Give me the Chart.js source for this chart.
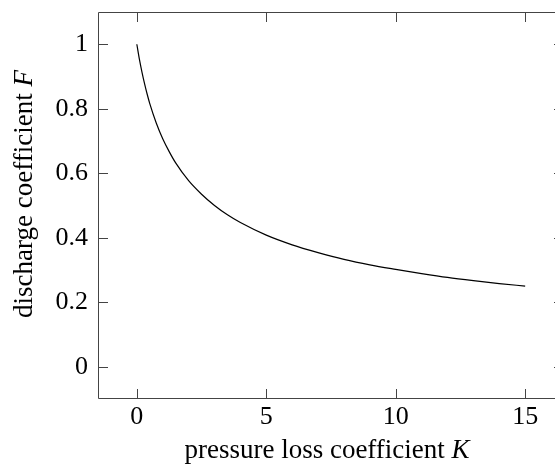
<!DOCTYPE html>
<html>
<head>
<meta charset="utf-8">
<script src="https://cdn.jsdelivr.net/npm/chart.js@4"></script>
<style>
  body { margin: 0; overflow: hidden; background: #fff; }
  #wrap { width: 575px; height: 467px; }
</style>
</head>
<body>
<div id="wrap"><canvas id="myChart" width="575" height="467"></canvas></div>
<script>
// values
var kValues = [0, 0.1, 0.2, 0.3, 0.4, 0.5, 0.75, 1, 1.25, 1.5, 2, 2.5, 3, 3.5, 4, 5, 6, 7, 8, 9, 10, 11, 12, 13, 14, 15];
var fValues = [1, 0.953, 0.913, 0.877, 0.845, 0.816, 0.756, 0.707, 0.667, 0.632, 0.577, 0.535, 0.5, 0.471, 0.447, 0.408, 0.378, 0.354, 0.333, 0.316, 0.302, 0.289, 0.277, 0.267, 0.258, 0.25];
var xTicks = [0, 5, 10, 15];
var yTicks = [0, 0.2, 0.4, 0.6, 0.8, 1];

var serif = "'Liberation Serif', 'DejaVu Serif', serif";
var axisColor = '#444';
var tickSize = 26;
var titleSize = 27;

var points = kValues.map(function (k, i) { return { x: k, y: fValues[i] }; });

// box (right side falls off the page), inward tick marks, axis titles with italic symbols
var framePlugin = {
  id: 'frame',
  afterDraw: function (chart) {
    var c = chart.ctx, a = chart.chartArea;
    var xs = chart.scales.x, ys = chart.scales.y;
    var l = a.left + 0.5, r = a.right - 0.5, t = a.top + 0.5, b = a.bottom - 0.5;
    c.save();
    c.strokeStyle = axisColor;
    c.lineWidth = 1;
    c.beginPath();
    c.moveTo(r, t); c.lineTo(l, t); c.lineTo(l, b); c.lineTo(r, b);
    xTicks.forEach(function (v) {
      var px = Math.round(xs.getPixelForValue(v)) + 0.5;
      c.moveTo(px, a.bottom); c.lineTo(px, a.bottom - 10);
      c.moveTo(px, a.top); c.lineTo(px, a.top + 10);
    });
    yTicks.forEach(function (v) {
      var py = Math.round(ys.getPixelForValue(v)) + 0.5;
      c.moveTo(a.left, py); c.lineTo(a.left + 10, py);
      c.moveTo(a.right, py); c.lineTo(a.right - 10, py);
    });
    c.stroke();

    c.fillStyle = '#000';
    c.textBaseline = 'alphabetic';
    function mixed(parts, x, y) {
      var w = 0;
      parts.forEach(function (p) { c.font = p[1] + ' ' + titleSize + 'px ' + serif; w += c.measureText(p[0]).width; });
      var cx = x - w / 2;
      parts.forEach(function (p) {
        c.font = p[1] + ' ' + titleSize + 'px ' + serif;
        c.fillText(p[0], cx, y);
        cx += c.measureText(p[0]).width;
      });
    }
    // x title
    mixed([['pressure loss coefficient ', 'normal'], ['K', 'italic']], 327, 458);
    // y title
    c.translate(32, 194);
    c.rotate(-Math.PI / 2);
    mixed([['discharge coefficient ', 'normal'], ['F', 'italic']], 0, 0);
    c.restore();
  }
};

var ctx = document.getElementById('myChart').getContext('2d');
var chart = new Chart(ctx, {
  type: 'scatter',
  data: {
    datasets: [{
      data: points,
      showLine: true,
      borderColor: '#000',
      borderWidth: 1.2,
      pointRadius: 0,
      cubicInterpolationMode: 'monotone',
      fill: false
    }]
  },
  options: {
    responsive: false,
    animation: false,
    layout: { padding: { top: 12, right: 11, left: 0, bottom: 0 } },
    plugins: { legend: { display: false }, tooltip: { enabled: false } },
    scales: {
      x: {
        type: 'linear',
        min: -1.5, max: 16.5,
        afterBuildTicks: function (s) { s.ticks = xTicks.map(function (v) { return { value: v }; }); },
        afterFit: function (s) { s.height = 68; s.paddingLeft = 0; s.paddingRight = 0; },
        grid: { drawOnChartArea: false, drawTicks: false },
        border: { display: false },
        ticks: { color: '#000', padding: 3, font: { family: serif, size: tickSize }, maxRotation: 0,
                 callback: function (v) { return String(v); } }
      },
      y: {
        type: 'linear',
        min: -0.1, max: 1.1,
        afterBuildTicks: function (s) { s.ticks = yTicks.map(function (v) { return { value: v }; }); },
        afterFit: function (s) { s.width = 98; s.paddingTop = 0; s.paddingBottom = 0; },
        grid: { drawOnChartArea: false, drawTicks: false },
        border: { display: false },
        ticks: { color: '#000', padding: 10, font: { family: serif, size: tickSize },
                 callback: function (v) { return String(v); } }
      }
    }
  },
  plugins: [framePlugin]
});
</script>
</body>
</html>
